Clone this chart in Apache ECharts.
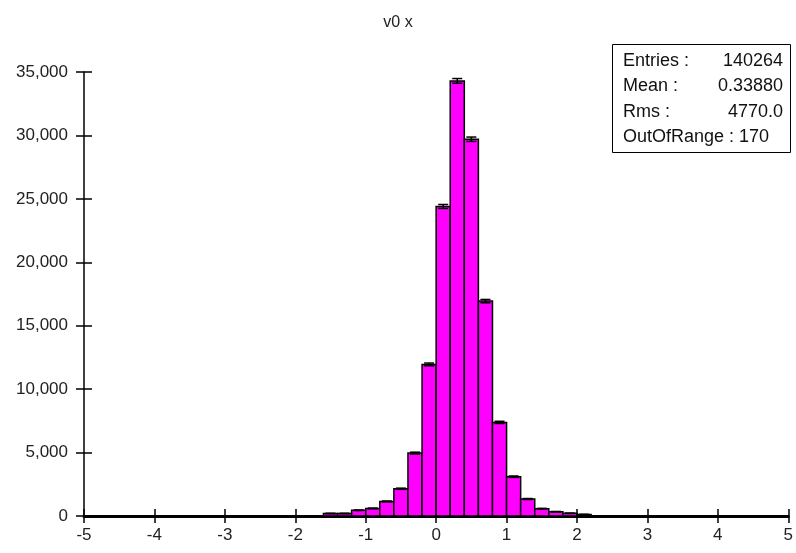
<!DOCTYPE html>
<html>
<head>
<meta charset="utf-8">
<script src="https://cdn.jsdelivr.net/npm/echarts@6/dist/echarts.min.js"></script>
<style>html,body{margin:0;padding:0;background:#fff}#c{width:796px;height:553px}</style>
</head>
<body>
<div id="c"></div>
<script>
// Histogram bins (lower edge), width 0.2
var binStart = [-1.6, -1.4, -1.2, -1.0, -0.8, -0.6, -0.4, -0.2, 0.0, 0.2, 0.4, 0.6, 0.8, 1.0, 1.2, 1.4, 1.6, 1.8, 2.0];
var binWidth = 0.2;
var counts  = [200, 200, 450, 600, 1150, 2150, 4960, 11950, 24400, 34300, 29700, 16940, 7380, 3100, 1340, 580, 340, 210, 120];
var errors  = [14, 14, 21, 24, 34, 46, 70, 109, 156, 185, 172, 130, 86, 56, 37, 24, 18, 14, 11];
var xTicks = [-5, -4, -3, -2, -1, 0, 1, 2, 3, 4, 5];
var yTicks = [0, 5000, 10000, 15000, 20000, 25000, 30000, 35000];
var titleText = 'v0 x';
var statsLabels = ['Entries :', 'Mean :', 'Rms :', 'OutOfRange : 170'];
var statsValues = ['140264', '0.33880', '4770.0', ''];

var FONT = 'Liberation Sans, Arial, sans-serif';
var data = binStart.map(function (s, i) { return [s, s + binWidth, counts[i], errors[i]]; });

function fmt(v) { return String(v).replace(/\B(?=(\d{3})+(?!\d))/g, ','); }

var chart = echarts.init(document.getElementById('c'), null, { renderer: 'canvas' });

var axisCommon = {
  type: 'value',
  splitLine: { show: false }
};

var statsGraphic = [{
  type: 'rect',
  shape: { x: 612.5, y: 44.5, width: 178, height: 108 },
  style: { fill: '#fff', stroke: '#000', lineWidth: 1 },
  z: 100
}];
statsLabels.forEach(function (t, i) {
  statsGraphic.push({
    type: 'text', left: 623, top: 52 + i * 25.3, z: 101,
    style: { text: t, font: '18px ' + FONT, fill: '#111' }
  });
  if (statsValues[i]) {
    statsGraphic.push({
      type: 'text', right: 13, top: 52 + i * 25.3, z: 101,
      style: { text: statsValues[i], font: '18px ' + FONT, fill: '#111', textAlign: 'right' }
    });
  }
});

chart.setOption({
  animation: false,
  backgroundColor: '#fff',
  title: {
    text: titleText, left: 'center', top: 10,
    textStyle: { fontFamily: FONT, fontSize: 16, fontWeight: 'normal', color: '#222' }
  },
  grid: { left: 84, right: 7, top: 72, bottom: 37 },
  xAxis: [
    Object.assign({}, axisCommon, {
      min: xTicks[0], max: xTicks[xTicks.length - 1], interval: 1,
      axisLine: { onZero: false, lineStyle: { color: '#000', width: 3 } },
      axisTick: { show: true, length: 7, lineStyle: { color: '#000', width: 1.5 } },
      axisLabel: { fontFamily: FONT, fontSize: 17, color: '#222', margin: 11 }
    }),
    Object.assign({}, axisCommon, {
      position: 'bottom',
      min: xTicks[0], max: xTicks[xTicks.length - 1], interval: 1,
      axisLine: { show: false, onZero: false },
      axisTick: { show: true, inside: true, length: 7, lineStyle: { color: '#000', width: 1.5 } },
      axisLabel: { show: false }
    })
  ],
  yAxis: [
    Object.assign({}, axisCommon, {
      position: 'left',
      min: yTicks[0], max: yTicks[yTicks.length - 1], interval: 5000,
      axisLine: { show: true, onZero: false, lineStyle: { color: '#000', width: 1.5 } },
      axisTick: { show: true, length: 8, lineStyle: { color: '#000', width: 1.5 } },
      axisLabel: { fontFamily: FONT, fontSize: 17, color: '#222', margin: 16, formatter: fmt }
    }),
    Object.assign({}, axisCommon, {
      position: 'left',
      min: yTicks[0], max: yTicks[yTicks.length - 1], interval: 5000,
      axisLine: { show: false, onZero: false },
      axisTick: { show: true, inside: true, length: 8, lineStyle: { color: '#000', width: 1.5 } },
      axisLabel: { show: false }
    })
  ],
  series: [{
    type: 'custom',
    xAxisIndex: 0, yAxisIndex: 0,
    data: data,
    z: 5,
    renderItem: function (params, api) {
      var x0 = api.value(0), x1 = api.value(1), v = api.value(2), e = api.value(3);
      var pTop = api.coord([x0, v]);
      var pBot = api.coord([x1, 0]);
      var xm = (x0 + x1) / 2;
      var eHi = api.coord([xm, v + e]);
      var eLo = api.coord([xm, v - e]);
      var half = 5;
      return {
        type: 'group',
        children: [
          {
            type: 'rect',
            shape: { x: pTop[0], y: pTop[1], width: pBot[0] - pTop[0], height: pBot[1] - pTop[1] },
            style: { fill: '#ff00ff', stroke: '#000', lineWidth: 1.5 }
          },
          {
            type: 'line',
            shape: { x1: eHi[0], y1: eHi[1], x2: eLo[0], y2: eLo[1] },
            style: { stroke: '#000', lineWidth: 1.5 }
          },
          {
            type: 'line',
            shape: { x1: eHi[0] - half, y1: eHi[1], x2: eHi[0] + half, y2: eHi[1] },
            style: { stroke: '#000', lineWidth: 1.5 }
          },
          {
            type: 'line',
            shape: { x1: eLo[0] - half, y1: eLo[1], x2: eLo[0] + half, y2: eLo[1] },
            style: { stroke: '#000', lineWidth: 1.5 }
          }
        ]
      };
    }
  }],
  graphic: statsGraphic
});
</script>
</body>
</html>
